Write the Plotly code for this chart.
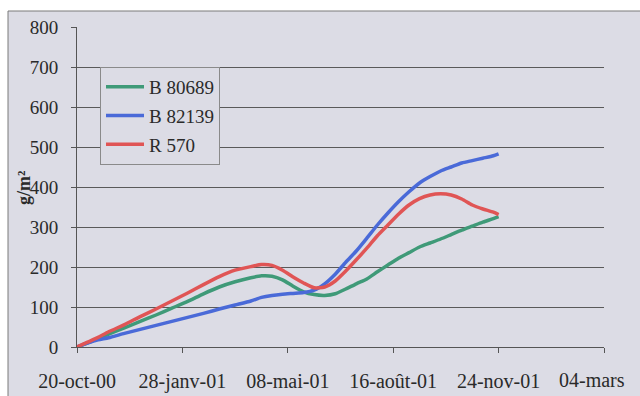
import plotly.graph_objects as go

dates = ["2000-10-20", "2000-10-30", "2000-11-09", "2000-11-19", "2000-12-04", "2000-12-19",
         "2001-01-03", "2001-01-18", "2001-02-02", "2001-02-17", "2001-03-04", "2001-03-19",
         "2001-04-03", "2001-04-13", "2001-04-23", "2001-05-03", "2001-05-13", "2001-05-23",
         "2001-06-02", "2001-06-12", "2001-06-22", "2001-07-02", "2001-07-12", "2001-07-22",
         "2001-08-01", "2001-08-11", "2001-08-21", "2001-08-31", "2001-09-10", "2001-09-20",
         "2001-09-30", "2001-10-10", "2001-10-20", "2001-10-30", "2001-11-09", "2001-11-19",
         "2001-11-24"]

b80689 = [0, 10, 21, 32, 48, 64, 80, 97, 114, 133, 150, 163, 173, 178, 177, 168, 152, 138,
          131, 129, 133, 145, 158, 170, 188, 205, 222, 236, 250, 260, 270, 281, 292, 302,
          312, 321, 326]
b82139 = [0, 10, 18, 23, 34, 44, 54, 64, 74, 84, 95, 105, 115, 124, 129, 132, 134, 136,
          142, 158, 182, 212, 240, 272, 305, 335, 363, 388, 410, 426, 440, 450, 460, 466,
          472, 478, 483]
r570 = [0, 12, 24, 38, 56, 76, 95, 115, 135, 156, 176, 192, 201, 206, 204, 192, 175, 160,
        148, 150, 165, 190, 218, 247, 278, 305, 332, 355, 371, 380, 383, 380, 370, 355,
        345, 337, 331]

series_names = ["B 80689", "B 82139", "R 570"]
series_colors = ["#3f9a78", "#4a6ad8", "#e05555"]

tick_dates = ["2000-10-20", "2001-01-28", "2001-05-08", "2001-08-16", "2001-11-24", "2002-03-04"]
tick_labels = ["20-oct-00", "28-janv-01", "08-mai-01", "16-août-01", "24-nov-01", "04-mars"]
y_ticks = [0, 100, 200, 300, 400, 500, 600, 700, 800]

BG = "#dcdce5"
FONT = "Times New Roman, Liberation Serif, serif"
TXT = "#2a2a2a"

fig = go.Figure()
for name, vals, col in zip(series_names, [b80689, b82139, r570], series_colors):
    fig.add_trace(go.Scatter(x=dates, y=vals, mode="lines", name=name, legendgroup=name,
                             line=dict(color=col, width=3.5, shape="spline", smoothing=0.6)))

W, H = 640, 396
L, R, T, B = 77, 36, 27, 49
pw = W - L - R
ph = H - T - B

# all tick labels but the last come from the axis; the last one sits at the right edge
fig.update_layout(
    width=W, height=H,
    margin=dict(l=L, r=R, t=T, b=B, autoexpand=False),
    paper_bgcolor="white",
    plot_bgcolor="rgba(0,0,0,0)",
    font=dict(family=FONT, size=19, color=TXT),
    showlegend=True,
    legend=dict(x=(100 - L) / pw, y=(H - B - 67) / ph, xanchor="left", yanchor="top",
                bgcolor=BG, bordercolor="#8a8a8a", borderwidth=1,
                font=dict(family=FONT, size=19, color=TXT),
                tracegroupgap=1, itemwidth=38),
    xaxis=dict(type="date", range=["2000-10-20", "2002-03-04"],
               tickvals=tick_dates, ticktext=tick_labels[:-1] + [""],
               showgrid=False, zeroline=False,
               showline=True, linecolor="#555555", linewidth=1,
               ticks="outside", ticklen=5, tickcolor="#555555",
               ticklabelstandoff=11,
               tickfont=dict(family=FONT, size=20, color=TXT)),
    yaxis=dict(range=[0, 800], tickvals=y_ticks,
               showgrid=True, gridcolor="#5a5a5a", gridwidth=1,
               zeroline=False, showline=True, linecolor="#555555", linewidth=1,
               ticks="outside", ticklen=5, tickcolor="#555555",
               ticklabelstandoff=9,
               tickfont=dict(family=FONT, size=19, color=TXT)),
    shapes=[dict(type="rect", xref="paper", yref="paper",
                 x0=(8 - L) / pw, x1=(W + 5 - L) / pw,
                 y0=(H - B - (H + 5)) / ph, y1=(H - B - 11) / ph,
                 fillcolor=BG, line=dict(color="#7a7a7a", width=1), layer="below")],
    annotations=[
        dict(text="<b>g/m²</b>", xref="paper", yref="paper",
             x=(24 - L) / pw, y=(H - B - 188) / ph, textangle=-90,
             showarrow=False, xanchor="center", yanchor="middle",
             font=dict(family=FONT, size=18, color=TXT)),
        dict(text=tick_labels[-1], xref="paper", yref="paper",
             x=(557 - L) / pw, y=(H - B - 380) / ph,
             showarrow=False, xanchor="left", yanchor="middle",
             font=dict(family=FONT, size=20, color=TXT)),
    ],
)

fig.write_html("out.html")
